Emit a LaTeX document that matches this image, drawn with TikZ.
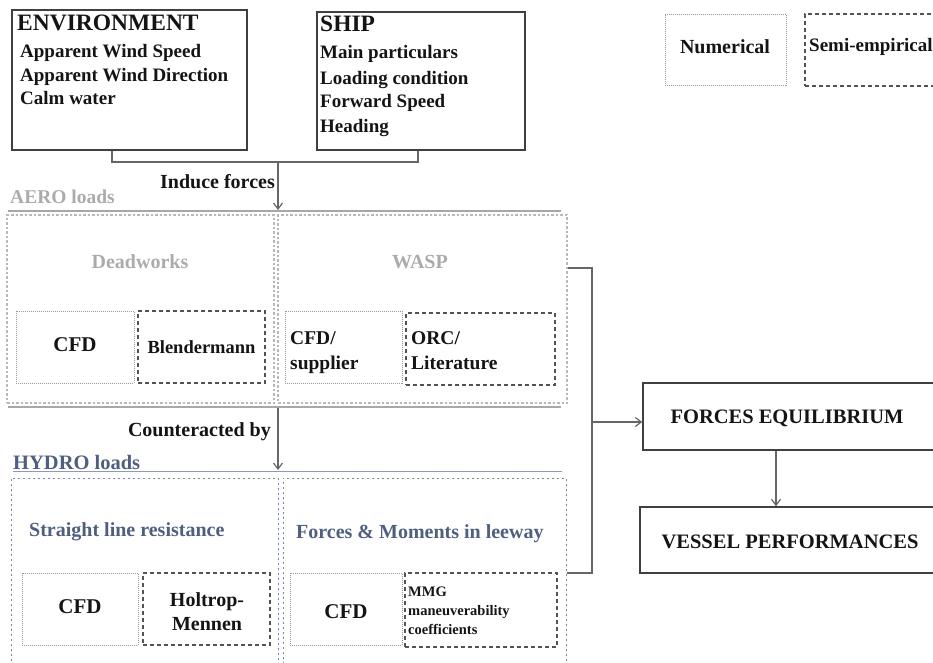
\documentclass[tikz,border=0pt]{standalone}
\usepackage{fontspec}
\setmainfont{Liberation Serif}
\usetikzlibrary{arrows.meta,calc}
\definecolor{boxcol}{HTML}{404040}
\definecolor{aerotxt}{HTML}{ABABAB}
\definecolor{hydrotxt}{HTML}{4F5F80}
\definecolor{aeroln}{HTML}{A8A8A8}
\definecolor{hydroln}{HTML}{8A9AB8}
\definecolor{hydrobox}{HTML}{7585A5}
\tikzset{
  fs/.style={font=\fontsize{#1}{#1}\selectfont\bfseries},
  solidbox/.style={draw=boxcol, line width=1.4pt, inner sep=0pt},
  numbox/.style={draw=gray!80, line width=1pt, dash pattern=on 1pt off 1pt, inner sep=0pt},
  semibox/.style={draw=boxcol!90, line width=1.2pt, dash pattern=on 4pt off 3pt, inner sep=0pt},
  aerobox/.style={draw=gray!55, line width=1.3pt, dash pattern=on 2.5pt off 2pt, inner sep=0pt},
  hydrobx/.style={draw=hydrobox, line width=1pt, dash pattern=on 2pt off 3pt, inner sep=0pt},
  conn/.style={draw=gray!80!black, line width=1.4pt},
  arr/.style={conn, -{Straight Barb[length=6pt,width=9pt,line width=1.2pt]}},
  txt/.style={inner sep=0pt, text=black!92},
}
\begin{document}
\begin{tikzpicture}[x=1pt,y=-1pt]
\useasboundingbox (0,0) rectangle (933,662);
% ---------- top boxes
\node[solidbox, minimum width=235pt, minimum height=140pt] (env) at (129.5,80) {};
\node[txt, fs=23.5, anchor=base west] (envt) at (17,30) {ENVIRONMENT};
\node[txt, fs=19, anchor=base west] (env1) at (20,57.5) {Apparent Wind Speed};
\node[txt, fs=19, anchor=base west] (env2) at (20,81) {Apparent Wind Direction};
\node[txt, fs=19, anchor=base west] (env3) at (20,104.5) {Calm water};

\node[solidbox, minimum width=208pt, minimum height=138pt] (ship) at (421,81) {};
\node[txt, fs=23.5, anchor=base west] (shipt) at (320,31.5) {SHIP};
\node[txt, fs=19, anchor=base west] (ship1) at (320,58) {Main particulars};
\node[txt, fs=19, anchor=base west] (ship2) at (320,84) {Loading condition};
\node[txt, fs=19, anchor=base west] (ship3) at (320,107) {Forward Speed};
\node[txt, fs=19, anchor=base west] (ship4) at (320,132) {Heading};

% legend
\node[numbox, minimum width=121pt, minimum height=71pt] (num) at (725.5,49.5) {};
\node[txt, fs=20] (numt) at (725,47) {Numerical};
\node[semibox, minimum width=160pt, minimum height=72pt] (semi) at (885,50) {};
\node[txt, fs=19, anchor=west] (semit) at (809,47) {Semi-empirical};

% junction
\coordinate (join) at (278,162);
\coordinate (aerotop) at (278,210);
\draw[conn] ([xshift=-17.5pt]env.south) |- (join) -| ([xshift=-3pt]ship.south);
\draw[arr] (join) -- (aerotop);
\node[txt, fs=20, anchor=east] (induce) at (275,182) {Induce forces};

% ---------- AERO
\node[txt, fs=19.5, anchor=west, text=aerotxt] (aerot) at (10,197) {AERO loads};
\coordinate (al1) at (8,211);
\coordinate (al2) at (561,211);
\draw[aeroln, line width=2.6pt] (al1) -- (al2);
\node[aerobox, minimum width=267pt, minimum height=188pt] (dw) at (140.5,309) {};
\node[aerobox, minimum width=289pt, minimum height=188pt] (wasp) at (422.5,309) {};
\node[txt, fs=20, text=aerotxt] (dwt) at (140,262) {Deadworks};
\node[txt, fs=20, text=aerotxt] (waspt) at (420,262) {WASP};
\node[numbox, minimum width=118pt, minimum height=72pt] (cfda) at (75,347) {};
\node[txt, fs=21] (cfdat) at (75,345) {CFD};
\node[semibox, minimum width=127pt, minimum height=72pt] (blend) at (201.5,347) {};
\node[txt, fs=18.5] (blendt) at (201.5,347) {Blendermann};
\node[numbox, minimum width=117pt, minimum height=72pt] (cfds) at (343.5,347) {};
\node[txt, fs=19.5, anchor=base west] (cfds1) at (290,344) {CFD/};
\node[txt, fs=19.5, anchor=base west] (cfds2) at (290,369) {supplier};
\node[semibox, minimum width=149pt, minimum height=72pt] (orc) at (480.5,349) {};
\node[txt, fs=19.5, anchor=base west] (orc1) at (411,344) {ORC/};
\node[txt, fs=19.5, anchor=base west] (orc2) at (411,369) {Literature};
\coordinate (al3) at (8,407);
\coordinate (al4) at (561,407);
\draw[aeroln, line width=2.6pt] (al3) -- (al4);

% arrow AERO -> HYDRO
\coordinate (mid1) at (278,408);
\coordinate (hydtop) at (278,470);
\draw[arr] (mid1) -- (hydtop);
\node[txt, fs=20, anchor=east] (counter) at (271,432) {Counteracted by};

% ---------- HYDRO
\node[txt, fs=20.5, anchor=west, text=hydrotxt] (hydrot) at (13,462) {HYDRO loads};
\coordinate (hl1) at (13,471.5);
\coordinate (hl2) at (562,471.5);
\draw[hydroln, line width=1.8pt] (hl1) -- (hl2);
\node[hydrobx, minimum width=267pt, minimum height=210pt] (str) at (144.5,583) {};
\node[hydrobx, minimum width=283pt, minimum height=210pt] (lee) at (424.5,583) {};
\node[txt, fs=20, anchor=west, text=hydrotxt] (strt) at (29,532) {Straight line resistance};
\node[txt, fs=20, anchor=west, text=hydrotxt] (leet) at (296,534) {Forces \& Moments in leeway};
\node[numbox, minimum width=116pt, minimum height=72pt] (cfdh) at (80,609) {};
\node[txt, fs=21] (cfdht) at (80,607) {CFD};
\node[semibox, minimum width=127pt, minimum height=72pt] (holt) at (206.5,609) {};
\node[txt, fs=20, anchor=base] (holt1) at (207,606) {Holtrop-};
\node[txt, fs=20, anchor=base] (holt2) at (207,630) {Mennen};
\node[numbox, minimum width=112pt, minimum height=72pt] (cfdl) at (346,609) {};
\node[txt, fs=21] (cfdlt) at (346,612) {CFD};
\node[semibox, minimum width=152pt, minimum height=74pt] (mmg) at (481,610) {};
\node[txt, fs=14.5, anchor=base west] (mmg1) at (408,596) {MMG};
\node[txt, fs=14.5, anchor=base west] (mmg2) at (408,615) {maneuverability};
\node[txt, fs=14.5, anchor=base west] (mmg3) at (408,634) {coefficients};

% ---------- right side
\node[solidbox, minimum width=320pt, minimum height=67pt] (forces) at (803,416.5) {};
\node[txt, fs=20.5] (forcest) at (787,418) {FORCES EQUILIBRIUM};
\node[solidbox, minimum width=320pt, minimum height=66pt] (vessel) at (800,540) {};
\node[txt, fs=20.5] (vesselt) at (790,542) {VESSEL PERFORMANCES};

\coordinate (b1) at (592,268);
\coordinate (b2) at (592,573);
\coordinate (bm) at (592,422);
\draw[conn] (b1 -| wasp.east) -- (b1) -- (b2) -- (b2 -| lee.east);
\draw[arr] (bm) -- (bm -| forces.west);
\draw[arr] (forces.south -| 776,0) -- (vessel.north -| 776,0);
\end{tikzpicture}
\end{document}
